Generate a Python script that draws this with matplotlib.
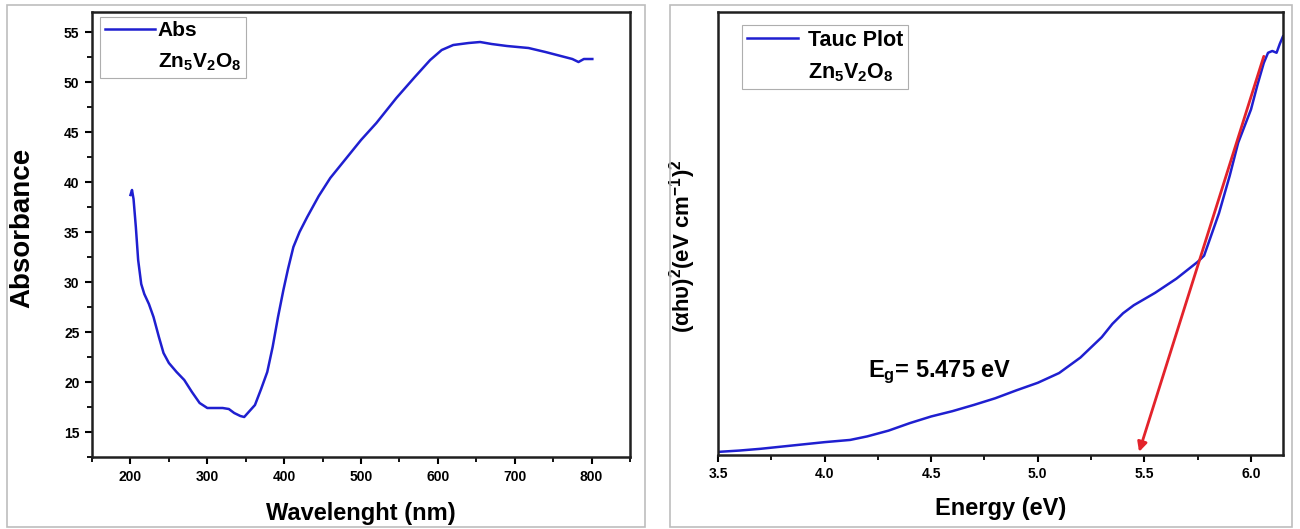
import numpy as np
import matplotlib
matplotlib.use("Agg")
import matplotlib.pyplot as plt
from matplotlib.lines import Line2D
from matplotlib.patches import Rectangle
from matplotlib.ticker import MultipleLocator

plt.rcParams["font.family"] = ["Liberation Sans", "DejaVu Sans"]
plt.rcParams["font.weight"] = "bold"
plt.rcParams["axes.labelweight"] = "bold"
plt.rcParams["mathtext.fontset"] = "custom"
plt.rcParams["mathtext.rm"] = "Liberation Sans:bold"
plt.rcParams["mathtext.bf"] = "Liberation Sans:bold"
plt.rcParams["mathtext.it"] = "Liberation Sans:bold"
plt.rcParams["mathtext.default"] = "bf"

# absorbance spectrum (left)
wavelength = [200, 202, 204, 207, 210, 214, 218, 224, 230, 237, 243, 250, 260,
              270, 280, 290, 300, 310, 320, 328, 335, 343, 348, 355, 362, 370,
              378, 385, 392, 399, 405, 412, 420, 430, 445, 460, 480, 500, 520,
              546, 570, 590, 605, 620, 640, 655, 670, 690, 718, 740, 760, 775,
              783, 790, 801]
absorbance = [38.7, 39.2, 38.3, 35.5, 32.2, 29.8, 28.8, 27.8, 26.5, 24.5, 22.9,
              21.9, 21.0, 20.2, 19.0, 17.9, 17.4, 17.4, 17.4, 17.3, 16.9, 16.6,
              16.5, 17.1, 17.7, 19.3, 21.0, 23.5, 26.5, 29.2, 31.3, 33.5, 35.0,
              36.5, 38.6, 40.4, 42.3, 44.2, 45.9, 48.4, 50.5, 52.2, 53.2, 53.7,
              53.9, 54.0, 53.8, 53.6, 53.4, 53.0, 52.6, 52.3, 52.0, 52.3, 52.3]

# Tauc plot (right), arbitrary units
energy = [3.50, 3.60, 3.70, 3.80, 3.90, 4.00, 4.12, 4.20, 4.30, 4.40, 4.50,
          4.60, 4.70, 4.80, 4.90, 5.00, 5.10, 5.20, 5.30, 5.35, 5.40, 5.45,
          5.55, 5.65, 5.75, 5.78, 5.85, 5.90, 5.94, 6.00, 6.03, 6.06, 6.08,
          6.10, 6.12, 6.135, 6.15]
tauc = [0.7, 1.0, 1.4, 1.9, 2.4, 2.9, 3.4, 4.2, 5.5, 7.2, 8.7, 9.9, 11.3,
        12.8, 14.6, 16.3, 18.5, 22.0, 26.6, 29.6, 32.0, 33.8, 36.6, 39.8,
        43.6, 45.0, 54.6, 63.0, 70.5, 78.0, 83.5, 88.5, 90.8, 91.2, 90.8,
        92.8, 94.5]

fit_start = (6.06, 90.0)
fit_end = (5.475, 0.7)
eg_label = "E$_g$= 5.475 eV"
sample = "Zn$_5$V$_2$O$_8$"

blue = "#1f1fd0"
red = "#e3232b"

fig = plt.figure(figsize=(13, 5.29), dpi=100)

# panel frames
fig.add_artist(Rectangle((7 / 1300, 2 / 529), 638 / 1300, 522 / 529,
                         transform=fig.transFigure, fill=False,
                         edgecolor="#bdbdbd", lw=1.2))
fig.add_artist(Rectangle((670 / 1300, 2 / 529), 622 / 1300, 522 / 529,
                         transform=fig.transFigure, fill=False,
                         edgecolor="#bdbdbd", lw=1.2))

ax1 = fig.add_axes([0.0708, 0.1361, 0.4138, 0.8412])
ax2 = fig.add_axes([0.5523, 0.1399, 0.4346, 0.8374])

for ax in (ax1, ax2):
    for s in ax.spines.values():
        s.set_linewidth(1.8)
        s.set_color("#202020")
    ax.tick_params(which="major", direction="out", length=5, width=1.5,
                   labelsize=10, pad=4)
    ax.tick_params(which="minor", direction="out", length=3.5, width=1.3)
    ax.tick_params(top=False, right=False, which="both")

# left
ax1.plot(wavelength, absorbance, color=blue, lw=1.8)
ax1.set_xlim(150, 850)
ax1.set_ylim(12.5, 57)
ax1.xaxis.set_major_locator(MultipleLocator(100))
ax1.xaxis.set_minor_locator(MultipleLocator(50))
ax1.yaxis.set_major_locator(MultipleLocator(5))
ax1.yaxis.set_minor_locator(MultipleLocator(2.5))
ax1.set_xlabel("Wavelenght (nm)", fontsize=17, labelpad=13)
ax1.set_ylabel("Absorbance", fontsize=20)
ax1.yaxis.set_label_coords(-0.105, 0.515)
h1 = [Line2D([], [], color=blue, lw=1.8), Line2D([], [], color="none")]
leg1 = ax1.legend(h1, ["Abs", sample], loc="upper left",
                  bbox_to_anchor=(0.015, 0.989), borderaxespad=0,
                  fontsize=15, handlelength=2.4, handletextpad=0.15,
                  borderpad=0.22, labelspacing=0.55, fancybox=False,
                  frameon=True)
leg1.get_frame().set_edgecolor("#9a9a9a")
leg1.get_frame().set_linewidth(0.8)

# right
ax2.plot(energy, tauc, color=blue, lw=1.8)
ax2.annotate("", xy=fit_end, xytext=fit_start,
             arrowprops=dict(arrowstyle="-|>", color=red, lw=2,
                             mutation_scale=14, shrinkA=0, shrinkB=0))
ax2.text(4.204, 17.6, eg_label, fontsize=17, ha="left", va="baseline")
ax2.set_xlim(3.5, 6.15)
ax2.set_ylim(0, 100)
ax2.xaxis.set_major_locator(MultipleLocator(0.5))
ax2.xaxis.set_minor_locator(MultipleLocator(0.25))
ax2.xaxis.set_major_formatter(plt.FormatStrFormatter("%.1f"))
ax2.set_yticks([])
ax2.set_xlabel("Energy (eV)", fontsize=17, labelpad=11)
ax2.set_ylabel("(αhυ)$^2$(eV cm$^{-1}$)$^2$", fontsize=16)
ax2.yaxis.set_label_coords(-0.035, 0.472)
h2 = [Line2D([], [], color=blue, lw=1.8), Line2D([], [], color="none")]
leg2 = ax2.legend(h2, ["Tauc Plot", sample], loc="upper left",
                  bbox_to_anchor=(0.0425, 0.971), borderaxespad=0,
                  fontsize=15.5, handlelength=2.4, handletextpad=0.45,
                  borderpad=0.22, labelspacing=0.5, fancybox=False,
                  frameon=True)
leg2.get_frame().set_edgecolor("#9a9a9a")
leg2.get_frame().set_linewidth(0.8)

fig.savefig("out.png", dpi=100)
